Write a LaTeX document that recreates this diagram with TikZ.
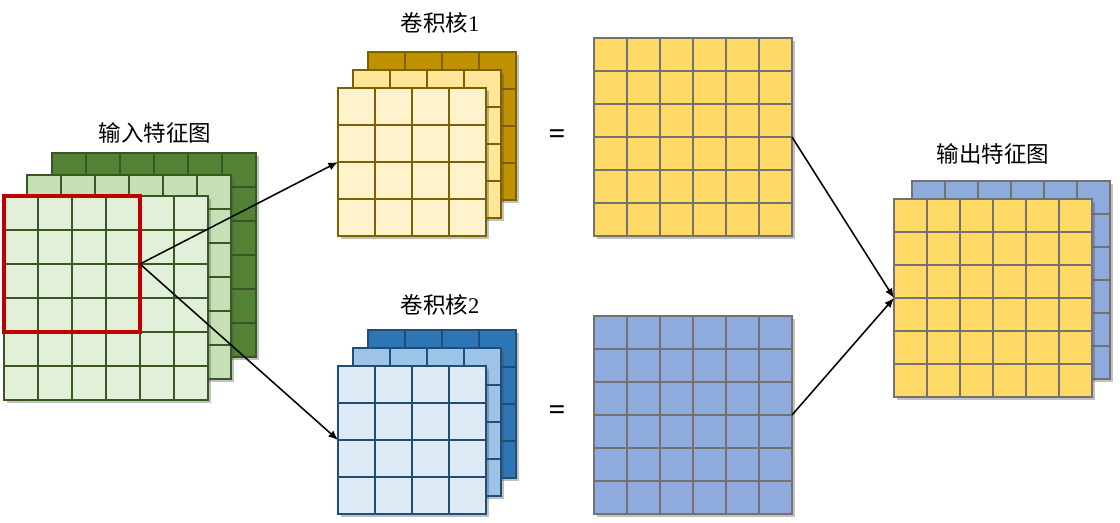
\documentclass[tikz,border=0pt]{standalone}
\usepackage{fontspec}
\setmainfont{Liberation Serif}
\newfontfamily\cjk{Noto Sans CJK SC}
\usepackage{xcolor}
\usetikzlibrary{arrows.meta, positioning, calc, shadows}

\definecolor{inDark}{HTML}{548235}
\definecolor{inMid}{HTML}{C5E0B4}
\definecolor{inLight}{HTML}{E2F0D9}
\definecolor{inLine}{HTML}{385723}
\definecolor{kaDark}{HTML}{BF9000}
\definecolor{kaMid}{HTML}{FFE699}
\definecolor{kaLight}{HTML}{FFF2CC}
\definecolor{kaLine}{HTML}{7F6000}
\definecolor{kbDark}{HTML}{2E75B6}
\definecolor{kbMid}{HTML}{9DC3E6}
\definecolor{kbLight}{HTML}{DEEBF7}
\definecolor{kbLine}{HTML}{1F4E79}
\definecolor{resYellow}{HTML}{FFD966}
\definecolor{resBlue}{HTML}{8FAADC}
\definecolor{resLine}{HTML}{767171}
\definecolor{winRed}{HTML}{C00000}

% one feature map layer: name, x, y (top left), cells, cell size, fill, line colour
\newcommand\fmap[7]{%
  \node[layer, fill=#6, draw=#7, minimum size=#4*#5*0.025cm] (#1) at (#2,#3) {};
  \pgfmathtruncatemacro\fmlast{#4-1}
  \foreach \k in {1,...,\fmlast}{
    \draw[gridline, draw=#7] (#2+\k*#5,#3) -- ++(0,#4*#5);
    \draw[gridline, draw=#7] (#2,#3+\k*#5) -- ++(#4*#5,0);
  }%
}

\begin{document}
\begin{tikzpicture}[
    x=0.025cm, y=-0.025cm,
    font=\fontsize{16}{19}\selectfont,
    layer/.style={anchor=north west, inner sep=0pt, outer sep=0pt, line width=1.5pt,
      drop shadow={shadow xshift=2pt, shadow yshift=-2pt, opacity=0.35, fill=black!70}},
    gridline/.style={line width=1.5pt},
    window/.style={draw=winRed, anchor=north west, inner sep=0pt, outer sep=0pt, line width=2.4pt},
    title/.style={inner sep=1pt},
    equals/.style={font=\fontsize{21}{24}\selectfont\bfseries},
    arrow/.style={-{Latex[length=2.4mm, width=2mm]}, line width=1.1pt, draw=black}
  ]
    \useasboundingbox (0,0) rectangle (1120,522);

    % Input feature map
    \fmap{inC}{52}{153}{6}{34}{inDark}{inLine}
    \fmap{inB}{27}{175}{6}{34}{inMid}{inLine}
    \fmap{inA}{4}{196}{6}{34}{inLight}{inLine}
    \node[window, minimum size=136*0.025cm] (win) at (4,196) {};
    \node[title] (inTitle) at (155,133) {\cjk 输入特征图};

    % Kernel 1
    \fmap{kaC}{368}{52}{4}{37}{kaDark}{kaLine}
    \fmap{kaB}{353}{70}{4}{37}{kaMid}{kaLine}
    \fmap{kaA}{338}{88}{4}{37}{kaLight}{kaLine}
    \node[title] (kaTitle) at (440,23) {{\cjk 卷积核}1};

    % Kernel 2
    \fmap{kbC}{368}{330}{4}{37}{kbDark}{kbLine}
    \fmap{kbB}{353}{348}{4}{37}{kbMid}{kbLine}
    \fmap{kbA}{338}{366}{4}{37}{kbLight}{kbLine}
    \node[title] (kbTitle) at (440,305) {{\cjk 卷积核}2};

    % Results
    \node[equals] (eqA) at (557,137) {=};
    \node[equals] (eqB) at (557,413) {=};
    \fmap{resA}{594}{38}{6}{33}{resYellow}{resLine}
    \fmap{resB}{594}{316}{6}{33}{resBlue}{resLine}

    % Output feature map
    \fmap{outB}{912}{181}{6}{33}{resBlue}{resLine}
    \fmap{outA}{894}{199}{6}{33}{resYellow}{resLine}
    \node[title] (outTitle) at (993,154) {\cjk 输出特征图};

    \draw[arrow] (win.east) -- (kaA.west);
    \draw[arrow] (win.east) -- (kbA.west);
    \draw[arrow] (resA.east) -- (outA.west);
    \draw[arrow] (resB.east) -- (outA.west);
  \end{tikzpicture}
\end{document}
